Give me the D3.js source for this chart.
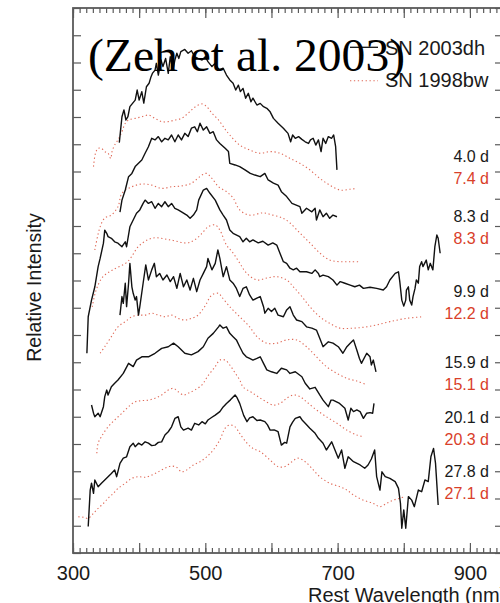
<!DOCTYPE html>
<html>
<head>
<meta charset="utf-8">
<script src="https://cdn.jsdelivr.net/npm/d3@7"></script>
<style>
  html, body { margin: 0; padding: 0; background: #fff; }
  svg { display: block; }
</style>
</head>
<body>
<svg id="chart" width="500" height="603"></svg>
<script>
// ---- Spectra: [rest wavelength (nm), relative intensity incl. vertical offset] ----

// SN 2003dh (solid black)
const dh_4_0 = [[370,15.06],[374,16.01],[377,16.26],[380,15.89],[383,16.01],[386,16.38],[390,16.50],[394,16.62],[397,16.99],[400,16.62],[404,16.93],[407,16.51],[411,17.11],[415,17.24],[418,17.48],[420,17.60],[424,17.72],[426,17.97],[429,17.54],[433,18.09],[436,17.85],[440,18.15],[444,17.60],[447,18.21],[451,17.72],[454,18.09],[457,18.34],[460,18.15],[463,18.40],[469,18.48],[474,18.34],[479,18.43],[484,18.21],[489,18.15],[495,18.09],[500,18.21],[504,18.03],[510,17.85],[515,17.97],[520,17.72],[527,17.79],[532,17.54],[537,17.36],[542,17.24],[546,16.99],[550,17.17],[553,16.93],[557,17.05],[561,16.69],[565,16.87],[569,16.56],[572,16.69],[578,16.44],[583,16.50],[588,16.38],[593,16.32],[598,16.19],[603,15.95],[610,15.77],[618,15.59],[625,15.40],[629,15.09],[632,15.34],[636,15.22],[641,15.28],[646,15.18],[651,15.09],[656,15.03],[659,15.16],[663,15.22],[667,14.97],[671,15.16],[675,14.73],[678,15.22],[682,15.03],[686,15.28],[691,15.22],[694,15.34],[697,14.91],[699,14.06]];

const dh_8_3 = [[371,12.51],[374,12.95],[379,13.32],[384,13.81],[389,13.93],[394,14.18],[399,14.30],[404,14.42],[409,14.67],[414,14.91],[419,15.22],[424,15.16],[429,15.28],[434,15.09],[439,15.22],[444,15.16],[449,15.34],[454,15.09],[459,15.34],[464,15.16],[469,15.40],[474,15.28],[479,15.59],[484,15.64],[488,15.46],[492,15.77],[497,15.52],[502,15.64],[507,15.40],[512,15.46],[517,15.16],[522,15.03],[530,14.85],[535,14.73],[537,14.30],[545,14.24],[552,14.18],[560,14.06],[568,13.93],[575,13.87],[583,13.81],[590,13.93],[595,13.69],[603,13.57],[610,13.50],[615,13.26],[623,13.08],[631,12.83],[643,12.71],[646,12.47],[653,12.65],[661,12.52],[666,12.65],[668,12.22],[673,12.59],[678,12.34],[683,12.47],[688,12.28],[693,12.40],[699,12.34]];

const dh_9_9 = [[321,7.33],[323,8.67],[328,9.28],[333,9.77],[338,10.51],[341,10.81],[346,11.37],[348,11.85],[351,11.73],[353,11.61],[358,11.55],[363,11.42],[368,11.37],[374,11.24],[379,11.42],[381,11.24],[386,11.97],[391,12.22],[396,12.47],[401,12.59],[406,12.83],[409,12.95],[414,12.83],[419,12.89],[424,12.65],[429,12.83],[434,12.71],[439,12.89],[444,12.71],[449,12.83],[454,12.65],[459,12.59],[464,12.52],[472,12.40],[477,12.28],[482,12.40],[487,12.59],[490,12.95],[497,13.32],[502,13.38],[507,13.20],[515,12.95],[522,12.59],[527,12.40],[532,12.22],[537,11.85],[542,11.73],[552,11.61],[557,11.42],[562,11.55],[567,11.42],[572,11.49],[580,11.38],[587,11.44],[595,11.30],[602,11.38],[608,11.30],[613,10.99],[618,10.69],[623,10.63],[628,10.45],[633,10.39],[638,10.45],[643,10.32],[653,10.32],[661,10.26],[666,10.39],[671,10.26],[673,10.14],[678,10.20],[686,10.14],[693,10.02],[699,9.83],[704,9.96],[711,9.90],[719,9.83],[726,9.77],[733,9.83],[739,9.71],[749,9.75],[759,9.71],[769,9.65],[774,9.77],[779,10.02],[787,10.26],[792,10.32],[794,9.96],[797,9.28],[800,9.06],[803,9.28],[804,9.65],[807,9.77],[809,9.28],[812,9.10],[814,9.41],[817,9.71],[819,10.02],[822,9.90],[824,10.51],[827,10.69],[829,10.51],[834,10.75],[837,10.39],[840,10.63],[844,10.39],[847,11.24],[850,11.67],[852,11.55],[855,11.00]];

const dh_15_9 = [[371,8.73],[374,9.41],[376,9.16],[379,9.90],[381,9.04],[384,9.90],[386,10.63],[389,9.77],[391,9.53],[394,9.28],[396,9.41],[399,8.73],[401,9.04],[406,9.90],[410,10.57],[414,10.02],[419,10.39],[423,10.63],[426,10.14],[431,10.26],[436,10.02],[442,10.20],[447,9.96],[452,10.14],[457,9.71],[462,10.26],[467,9.77],[472,10.02],[477,9.65],[482,10.08],[487,9.59],[492,10.02],[497,10.26],[502,10.51],[504,10.81],[510,10.39],[515,10.63],[519,11.12],[522,10.81],[527,10.14],[532,10.51],[537,10.02],[542,9.90],[547,9.71],[552,9.41],[557,9.71],[562,9.77],[567,9.47],[572,9.28],[578,9.35],[583,9.41],[588,9.04],[590,8.80],[595,8.98],[600,8.86],[605,8.98],[610,8.73],[618,8.67],[623,8.92],[628,9.04],[633,8.73],[638,8.55],[646,8.49],[653,8.30],[661,8.25],[668,8.18],[673,7.88],[678,7.57],[686,7.75],[693,7.70],[701,7.57],[708,7.33],[714,7.57],[719,7.70],[724,7.82],[729,7.45],[733,7.14],[736,6.96],[744,7.33],[749,7.20],[751,6.90],[754,7.08],[758,6.65]];

const dh_20_1 = [[328,5.43],[331,5.13],[333,5.00],[338,5.13],[341,5.00],[346,5.37],[348,5.74],[351,5.98],[353,5.80],[358,6.10],[363,6.23],[368,6.35],[376,6.59],[384,6.96],[391,6.84],[396,7.08],[404,7.20],[414,7.20],[424,7.33],[434,7.51],[444,7.57],[452,7.70],[459,7.57],[469,7.33],[479,7.27],[489,7.39],[497,7.57],[504,7.88],[512,8.06],[520,8.30],[522,8.37],[527,8.25],[532,8.30],[537,8.06],[542,7.94],[547,7.82],[552,7.57],[557,7.33],[562,7.20],[567,7.14],[572,7.08],[578,7.14],[583,7.20],[588,6.96],[593,6.72],[600,6.65],[608,6.59],[615,6.78],[623,6.72],[628,6.59],[636,6.65],[646,6.47],[651,6.23],[658,6.02],[666,6.08],[673,5.80],[678,5.61],[686,5.37],[690,5.61],[693,5.61],[703,5.49],[711,5.31],[716,4.88],[720,5.31],[724,5.19],[729,5.25],[734,5.19],[739,4.94],[744,5.13],[749,5.15],[753,5.13],[755,5.49]];

const dh_27_8 = [[323,0.97],[326,2.31],[328,2.56],[331,2.19],[333,2.68],[338,2.43],[343,2.56],[348,2.68],[353,2.80],[358,2.92],[363,3.05],[366,2.80],[371,3.29],[376,3.48],[381,3.53],[386,3.90],[391,4.03],[394,3.90],[399,4.03],[404,3.96],[409,4.08],[414,4.03],[419,3.94],[424,3.96],[429,4.06],[434,4.08],[439,4.33],[444,4.45],[449,4.63],[454,4.94],[459,5.00],[463,4.63],[467,4.51],[474,4.58],[479,4.51],[484,4.76],[490,4.70],[495,4.82],[500,4.74],[504,4.88],[510,4.98],[515,5.06],[522,5.19],[527,5.36],[532,5.49],[538,5.62],[545,5.80],[548,5.70],[552,5.49],[558,5.05],[563,4.82],[567,4.96],[572,5.00],[578,4.86],[583,4.88],[590,4.82],[594,4.70],[598,4.51],[604,4.52],[610,4.45],[615,3.96],[620,4.06],[623,4.03],[628,4.63],[632,4.80],[636,4.94],[643,5.00],[647,4.86],[651,4.76],[658,4.58],[666,4.39],[671,4.21],[678,4.03],[683,3.78],[691,4.08],[696,3.78],[701,3.48],[706,3.78],[711,3.11],[716,3.53],[724,3.35],[734,3.23],[741,3.11],[746,3.23],[751,3.45],[756,3.78],[759,2.80],[764,2.31],[767,2.98],[772,2.80],[779,2.74],[787,2.62],[792,2.37],[795,1.82],[797,0.91],[800,1.58],[803,0.91],[807,2.07],[812,1.94],[816,1.70],[822,2.31],[827,2.25],[832,2.68],[837,2.62],[841,3.53],[845,3.84],[848,3.29],[852,1.76]];

// SN 1998bw (dotted red)
const bw_7_4 = [[331,14.18],[334,14.67],[338,14.85],[343,14.85],[348,14.73],[353,14.67],[357,14.48],[359,14.73],[363,14.97],[368,15.16],[374,15.46],[379,15.77],[384,15.89],[394,15.95],[404,16.01],[414,16.07],[424,15.95],[434,15.83],[444,15.83],[454,15.89],[464,15.95],[474,16.14],[484,16.36],[495,16.48],[502,16.38],[510,16.14],[520,15.89],[530,15.55],[537,15.34],[552,14.97],[567,14.79],[583,14.67],[598,14.73],[613,14.67],[628,14.48],[643,14.30],[658,14.06],[673,13.75],[688,13.50],[704,13.32],[719,13.35],[729,13.38]];

const bw_8_3 = [[333,11.12],[341,11.97],[348,12.29],[358,12.40],[368,12.71],[374,13.20],[389,13.44],[404,13.54],[419,13.50],[434,13.38],[449,13.44],[464,13.47],[479,13.57],[495,13.87],[502,13.93],[510,13.75],[520,13.44],[532,13.26],[542,13.03],[552,12.59],[567,12.40],[587,12.48],[602,12.40],[617,12.29],[628,12.11],[643,11.74],[658,11.38],[673,11.01],[688,10.75],[704,10.69],[719,10.69],[731,10.69]];

const bw_12_2 = [[329,9.03],[335,9.65],[345,10.13],[360,10.39],[382,10.68],[401,11.30],[421,11.56],[447,11.49],[472,11.38],[484,11.49],[495,11.73],[504,11.97],[515,12.04],[522,11.85],[532,11.30],[542,11.01],[552,10.64],[562,10.28],[578,10.02],[593,10.09],[608,10.14],[623,10.02],[633,9.77],[646,9.41],[658,9.04],[673,8.67],[688,8.43],[704,8.25],[723,8.25],[741,8.29],[759,8.37],[779,8.49],[804,8.61],[829,8.67]];

const bw_15_1 = [[341,7.33],[348,7.57],[358,7.94],[368,8.30],[379,8.49],[389,8.67],[399,8.73],[409,8.73],[419,8.80],[429,8.73],[439,8.67],[449,8.73],[459,8.61],[469,8.55],[479,8.61],[489,8.73],[499,9.04],[510,9.47],[520,9.53],[525,9.39],[537,9.04],[552,8.67],[567,8.30],[578,7.94],[593,7.70],[608,7.70],[623,7.82],[638,7.82],[653,7.57],[668,7.20],[683,6.84],[699,6.59],[714,6.41],[729,6.31],[741,6.20]];

const bw_20_3 = [[336,3.66],[338,4.03],[343,4.27],[353,4.63],[363,4.88],[374,5.13],[384,5.37],[394,5.55],[404,5.59],[414,5.61],[424,5.68],[434,5.80],[444,5.98],[452,6.04],[459,5.92],[467,5.80],[474,5.86],[484,5.98],[495,6.17],[504,6.50],[515,6.84],[522,7.08],[530,7.08],[537,6.90],[545,6.61],[552,6.35],[557,6.10],[572,5.86],[588,5.61],[603,5.43],[613,5.49],[623,5.68],[633,5.80],[643,5.74],[653,5.55],[668,5.25],[683,5.00],[699,4.76],[714,4.51],[729,4.33],[739,4.27]];

const bw_27_1 = [[308,1.33],[316,1.31],[323,1.27],[331,1.46],[338,1.64],[346,1.82],[353,2.01],[361,2.19],[368,2.37],[379,2.56],[389,2.74],[399,2.80],[409,2.78],[419,2.86],[429,2.98],[439,3.11],[449,3.19],[457,3.14],[464,2.98],[472,3.05],[482,3.23],[492,3.35],[502,3.53],[512,3.78],[522,4.15],[530,4.58],[537,4.70],[545,4.63],[552,4.39],[563,4.03],[572,3.84],[583,3.72],[598,3.41],[610,3.17],[620,3.17],[631,3.35],[640,3.48],[651,3.35],[661,3.11],[673,2.80],[688,2.56],[704,2.43],[714,2.31],[724,2.13],[739,1.94],[754,1.82],[764,1.70],[774,1.82],[784,1.94],[794,2.01],[802,2.07]];

// Epoch labels, top to bottom
const epochs2003dh = ["4.0 d", "8.3 d", "9.9 d", "15.9 d", "20.1 d", "27.8 d"];
const epochs1998bw = ["7.4 d", "8.3 d", "12.2 d", "15.1 d", "20.3 d", "27.1 d"];

// Axis ticks
const xLabelTicks = [300, 500, 700, 900];
const xMajorTicks = d3.range(300, 951, 100);
const xMinorTicks = d3.range(300, 951, 10);
const yTicks = d3.range(0, 21, 1);

const legendNames = ["SN 2003dh", "SN 1998bw"];
const citation = "(Zeh et al. 2003)";

// ---- Layout ----
const frame = { left: 73, right: 503, top: 8, bottom: 553 };
const BLACK = "#111";
const RED = "#e06a58";
const RED_TEXT = "#d9402a";
const AXIS = "#5a5a5a";
const DOTS = "1.3,2.6";

const series2003dh = [dh_4_0, dh_8_3, dh_9_9, dh_15_9, dh_20_1, dh_27_8];
const series1998bw = [bw_7_4, bw_8_3, bw_12_2, bw_15_1, bw_20_3, bw_27_1];
// baseline of each black epoch label (px); red label sits 22px below
const labelBaselines = [162, 222, 297, 368, 423, 477];

const svg = d3.select("#chart");

const x = d3.scaleLinear().domain([300, 950]).range([frame.left, frame.right]);
const y = d3.scaleLinear().domain([0, 20]).range([frame.bottom, frame.top]);

// ---- Axes (ticks point inward) ----
function styleAxis(g) {
  g.select(".domain").remove();
  g.selectAll(".tick line").attr("stroke", AXIS).attr("stroke-width", 1.2);
  g.selectAll(".tick text")
    .attr("fill", "#1a1a1a")
    .style("font-family", "'Liberation Sans', Arial, Helvetica, sans-serif")
    .style("font-size", "20px");
}

svg.append("g")
  .attr("transform", `translate(0,${frame.bottom})`)
  .call(d3.axisBottom(x).tickValues(xMinorTicks).tickSize(-5).tickFormat(""))
  .call(styleAxis);
svg.append("g")
  .attr("transform", `translate(0,${frame.bottom})`)
  .call(d3.axisBottom(x).tickValues(xMajorTicks).tickSize(-10).tickPadding(12.8)
    .tickFormat(d => xLabelTicks.includes(d) ? d : ""))
  .call(styleAxis);
svg.append("g")
  .attr("transform", `translate(0,${frame.top})`)
  .call(d3.axisTop(x).tickValues(xMinorTicks).tickSize(-5).tickFormat(""))
  .call(styleAxis);
svg.append("g")
  .attr("transform", `translate(0,${frame.top})`)
  .call(d3.axisTop(x).tickValues(xMajorTicks).tickSize(-10).tickFormat(""))
  .call(styleAxis);
svg.append("g")
  .attr("transform", `translate(${frame.left},0)`)
  .call(d3.axisLeft(y).tickValues(yTicks).tickSize(-8).tickFormat(""))
  .call(styleAxis);
svg.append("g")
  .attr("transform", `translate(${frame.right},0)`)
  .call(d3.axisRight(y).tickValues(yTicks).tickSize(-8).tickFormat(""))
  .call(styleAxis);

svg.append("rect")
  .attr("x", frame.left).attr("y", frame.top)
  .attr("width", frame.right - frame.left).attr("height", frame.bottom - frame.top)
  .attr("fill", "none").attr("stroke", AXIS).attr("stroke-width", 1.8);

// ---- Spectra ----
const jagged = d3.line().x(d => x(d[0])).y(d => y(d[1]));
const smooth = d3.line().x(d => x(d[0])).y(d => y(d[1])).curve(d3.curveCatmullRom.alpha(0.5));

svg.append("g").selectAll("path").data(series1998bw).join("path")
  .attr("d", smooth)
  .attr("fill", "none")
  .attr("stroke", RED)
  .attr("stroke-width", 1.1)
  .attr("stroke-dasharray", DOTS);

svg.append("g").selectAll("path").data(series2003dh).join("path")
  .attr("d", jagged)
  .attr("fill", "none")
  .attr("stroke", BLACK)
  .attr("stroke-width", 1.4)
  .attr("stroke-linejoin", "round");

// ---- Epoch labels ----
const labelFont = "'Liberation Sans', Arial, Helvetica, sans-serif";
const labels = svg.append("g")
  .attr("font-family", labelFont)
  .attr("font-size", 16)
  .attr("text-anchor", "end");
labels.selectAll("text.dh").data(epochs2003dh).join("text")
  .attr("class", "dh")
  .attr("x", 489).attr("y", (d, i) => labelBaselines[i])
  .attr("fill", "#1a1a1a")
  .text(d => d);
labels.selectAll("text.bw").data(epochs1998bw).join("text")
  .attr("class", "bw")
  .attr("x", 489).attr("y", (d, i) => labelBaselines[i] + 22)
  .attr("fill", RED_TEXT)
  .text(d => d);

// ---- Legend ----
const legend = svg.append("g").attr("font-family", labelFont).attr("font-size", 20).attr("fill", "#1a1a1a");
legend.append("line").attr("x1", 350).attr("x2", 378).attr("y1", 47.3).attr("y2", 47.3)
  .attr("stroke", BLACK).attr("stroke-width", 1.3);
legend.append("line").attr("x1", 350).attr("x2", 378).attr("y1", 80.7).attr("y2", 80.7)
  .attr("stroke", RED).attr("stroke-width", 1.1).attr("stroke-dasharray", DOTS);
legend.append("text").attr("x", 385).attr("y", 55).text(legendNames[0]);
legend.append("text").attr("x", 385).attr("y", 87.3).text(legendNames[1]);

// ---- Citation ----
svg.append("text")
  .attr("x", 88).attr("y", 71)
  .attr("font-family", "'Liberation Serif', 'Times New Roman', Times, serif")
  .attr("font-size", 46)
  .attr("textLength", 317)
  .attr("lengthAdjust", "spacingAndGlyphs")
  .attr("fill", "#000")
  .text(citation);

// ---- Axis titles ----
svg.append("text")
  .attr("transform", "translate(41,287.5) rotate(-90)")
  .attr("text-anchor", "middle")
  .attr("font-family", labelFont)
  .attr("font-size", 19.5)
  .attr("fill", "#1a1a1a")
  .text("Relative Intensity");

svg.append("text")
  .attr("x", 308).attr("y", 601.5)
  .attr("font-family", labelFont)
  .attr("font-size", 20)
  .attr("fill", "#1a1a1a")
  .text("Rest Wavelength (nm)");
</script>
</body>
</html>
